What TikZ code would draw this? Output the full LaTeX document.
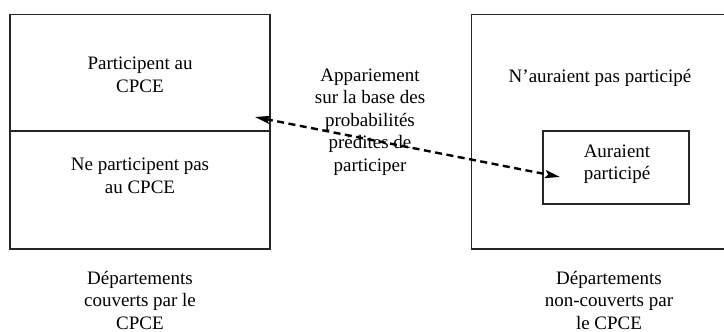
\documentclass[tikz,border=0pt]{standalone}
\usepackage{fontspec}
\setmainfont{Liberation Serif}
\usetikzlibrary{arrows.meta}
\begin{document}
\begin{tikzpicture}[x=1pt,y=-1pt,
  boxline/.style={draw=black!85,line width=1.5pt},
  lbl/.style={align=center,font=\fontsize{19}{22.5}\selectfont,inner sep=0pt},
  matcharrow/.style={line width=2.4pt,dash pattern=on 7pt off 4.5pt,
     {Stealth[length=15pt,width=8pt,inset=3pt]}-{Stealth[length=15pt,width=8pt,inset=3pt]}}]
\useasboundingbox (0,0) rectangle (724,332);
\begin{scope}
\clip (0,0) rectangle (724,332);
% left box
\draw[boxline] (10,14.5) rectangle (270,249);
\draw[boxline] (10,131) -- (270,131);
% right box (right side outside the picture)
\draw[boxline] (735,14.5) -- (471.5,14.5) -- (471.5,249) -- (735,249);
% inner box
\draw[boxline] (543,131) rectangle (689,204);
\end{scope}
% texts
\node[lbl] (part) at (140,75) {Participent au\\CPCE};
\node[lbl] (nopart) at (140,176) {Ne participent pas\\au CPCE};
\node[lbl] (match) at (370,122) {Appariement\\sur la base des\\probabilités\\prédites de\\participer};
\node[lbl] (naur) at (600,78) {N’auraient pas participé};
\node[lbl] (aur) at (617,164) {Auraient\\participé};
\node[lbl] (covered) at (140,300) {Départements\\couverts par le\\CPCE};
\node[lbl] (noncovered) at (609,300) {Départements\\non-couverts par\\le CPCE};
% matching arrow
\coordinate (ta) at (255,117);
\coordinate (tb) at (560,177);
\draw[matcharrow] (ta) -- (tb);
\end{tikzpicture}
\end{document}
